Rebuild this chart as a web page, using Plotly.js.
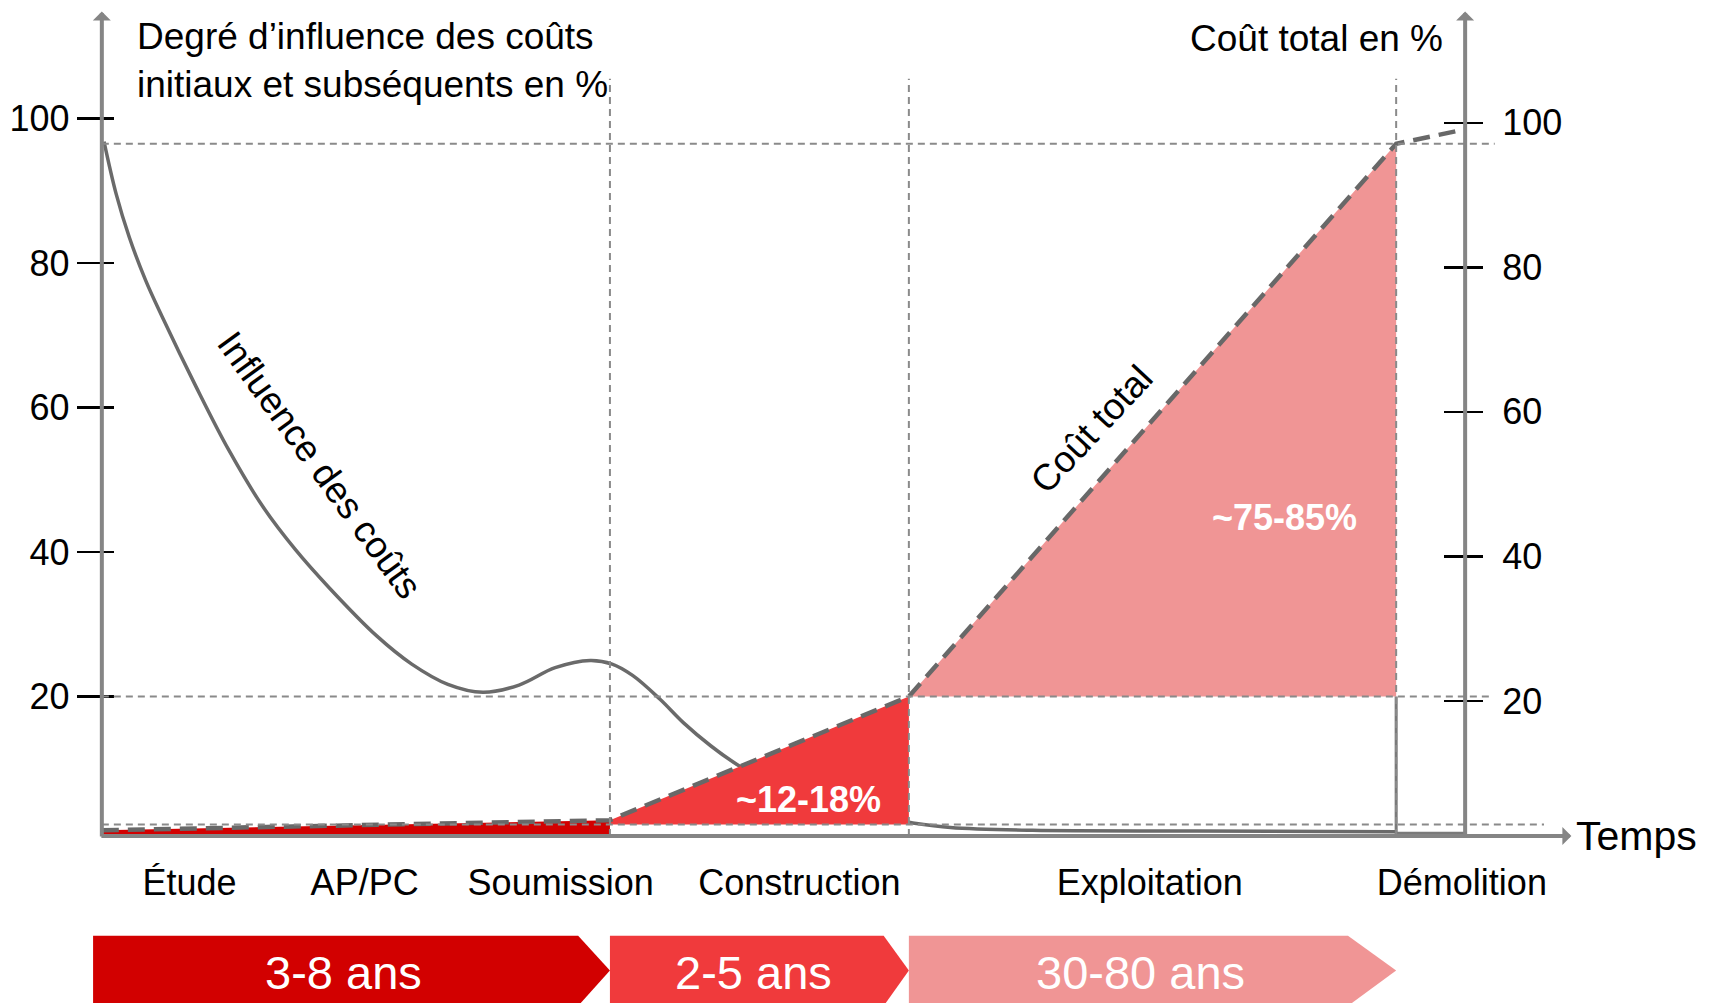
<!DOCTYPE html>
<html>
<head>
<meta charset="utf-8">
<script src="https://cdn.plot.ly/plotly-3.0.1.min.js"></script>
<style>html,body{margin:0;padding:0;background:#fff;}#chart{width:1717px;height:1003px;}</style>
</head>
<body>
<div id="chart"></div>
<script>
// ---------- data ----------
const phaseLabels = ["Étude", "AP/PC", "Soumission", "Construction", "Exploitation", "Démolition"];
const phaseLabelX = [8.0, 24.0, 41.9, 63.7, 95.7, 124.2];
const phaseBounds = [46.4, 73.7, 118.2];           // end of Soumission, Construction, Exploitation
const guideLevels = [96.5, 20, 2.3];               // horizontal reference levels (left axis %)

// cost influence (left axis, %)
const influenceX = [0.2, 1.3, 2.5, 4.0, 5.5, 8.6, 11.6, 14.7, 17.7, 20.8, 25.1, 28.3, 31.6, 34.8, 38.1, 41.4, 44.6, 46.6, 48.5, 51.0, 53.1, 55.6, 58.0, 61.0, 65.0, 69.0, 73.7, 77.5, 85.0, 100.0, 118.2];
const influenceY = [96.8, 89.6, 83.6, 77.6, 72.6, 62.9, 54.1, 46.3, 40.3, 35.0, 28.4, 24.5, 21.7, 20.6, 21.6, 24.0, 25.0, 24.5, 22.9, 19.6, 16.4, 13.2, 10.6, 8.0, 5.5, 3.8, 2.6, 1.9, 1.5, 1.4, 1.3];
const demolitionX = [118.2, 118.2, 124.5];
const demolitionY = [20, 1.1, 1.1];

// total cost (right axis, %)
const costX = [0, 46.4, 73.7, 118.2, 124.5];
const costY = [2.1, 3.5, 20.6, 97.1, 99.1];

const shareLabels = ["~12-18%", "~75-85%"];
const shareX = [64.5, 108.0];
const shareY = [5.8, 44.8];

const durationLabels = ["3-8 ans", "2-5 ans", "30-80 ans"];
const durationStart = [-0.8, 46.4, 73.7];
const durationEnd = [46.4, 73.7, 118.2];

const yTicks = [20, 40, 60, 80, 100];

// ---------- styles ----------
const FONT = "Liberation Sans, Arial, Helvetica, sans-serif";
const GRAY = "#858585";
const axisBase = 0.7;
const xAxisEnd = 134.2, yAxisTop = 114.8, rightAxisX = 124.5;
const chevTop = -13.1, chevMid = -17.9, chevBot = -22.8;
const chevTip = [2.9, 2.3, 4.4];
const chevColors = ["#D20000", "#F03A3C", "#F09595"];
const yRange = [-22.4, 116.4];
const rightShift = 0.6;   // right-axis scale offset vs left axis
const yRangeR = [yRange[0] + rightShift, yRange[1] + rightShift];

const traces = [];

// influence curve (left axis)
traces.push({x: influenceX, y: influenceY, yaxis: "y", mode: "lines", line: {color: "#6a6a6a", width: 3.5, shape: "spline", smoothing: 1}, hoverinfo: "skip"});
traces.push({x: demolitionX, y: demolitionY, yaxis: "y3", mode: "lines", line: {color: "#7a7a7a", width: 3}, hoverinfo: "skip"});

// fills under total cost (right axis)
const floorR = v => v + rightShift;
traces.push({x: [costX[0], costX[1], costX[1], costX[0]], y: [costY[0], costY[1], floorR(axisBase), floorR(axisBase)], yaxis: "y2",
  mode: "lines", fill: "toself", fillcolor: chevColors[0], line: {width: 0}, hoverinfo: "skip"});
traces.push({x: [costX[1], costX[1], costX[2], costX[2]], y: [floorR(guideLevels[2]), costY[1], costY[2], floorR(guideLevels[2])], yaxis: "y2",
  mode: "lines", fill: "toself", fillcolor: chevColors[1], line: {width: 0}, hoverinfo: "skip"});
traces.push({x: [costX[2], costX[3], costX[3]], y: [costY[2], costY[3], floorR(guideLevels[1])], yaxis: "y2",
  mode: "lines", fill: "toself", fillcolor: chevColors[2], line: {width: 0}, hoverinfo: "skip"});

// total cost dashed line
traces.push({x: costX, y: costY, yaxis: "y2", mode: "lines", line: {color: "#686868", width: 4.5, dash: "17px,9px"}, hoverinfo: "skip"});

// duration chevrons
for (let i = 0; i < durationLabels.length; i++) {
  const s = durationStart[i], e = durationEnd[i];
  traces.push({x: [s, e - chevTip[i], e, e - chevTip[i], s, s],
    y: [chevTop, chevTop, chevMid, chevBot, chevBot, chevTop].map(floorR), yaxis: "y4",
    mode: "lines", fill: "toself", fillcolor: chevColors[i], line: {width: 0}, hoverinfo: "skip"});
}

// ---------- shapes (guides) ----------
const dashLine = {color: "#8a8a8a", width: 2, dash: "7px,5px"};
const hExt = [127.2, 126.7, 131.7];
const shapes = [];
guideLevels.forEach((lv, i) => shapes.push({type: "line", xref: "x", yref: "y", x0: 0, x1: hExt[i], y0: lv, y1: lv, line: dashLine, layer: "above"}));
phaseBounds.forEach(b => shapes.push({type: "line", xref: "x", yref: "y", x0: b, x1: b, y0: axisBase, y1: 105.5, line: dashLine, layer: "above"}));

// ---------- annotations ----------
const ann = [];
const arrow = (x, y, ax, ay) => ({x: x, y: y, ax: ax, ay: ay, xref: "x", yref: "y", axref: "x", ayref: "y", text: "", showarrow: true,
  arrowhead: 1, arrowsize: 0.75, arrowwidth: 4, arrowcolor: GRAY, standoff: 0, startstandoff: 0});
ann.push(arrow(0, yAxisTop, 0, axisBase - 0.25));
ann.push(arrow(rightAxisX, yAxisTop, rightAxisX, axisBase - 0.25));
ann.push(arrow(xAxisEnd, axisBase, -0.18, axisBase));

ann.push({x: 3.0, y: 108.0, xref: "x", yref: "y", xanchor: "left", yanchor: "middle", align: "left", showarrow: false,
  text: "Degré d’influence des coûts<br>initiaux et subséquents en %", font: {family: FONT, size: 37, color: "#000"}});
ann.push({x: 122.7, y: 111.1, xref: "x", yref: "y", xanchor: "right", yanchor: "middle", showarrow: false,
  text: "Coût total en %", font: {family: FONT, size: 37, color: "#000"}});
ann.push({x: 134.4, y: axisBase, xref: "x", yref: "y", xanchor: "left", yanchor: "middle", showarrow: false,
  text: "Temps", font: {family: FONT, size: 41, color: "#000"}});
ann.push({x: 19.9, y: 52.0, xref: "x", yref: "y", showarrow: false, textangle: 54,
  text: "Influence des coûts", font: {family: FONT, size: 37, color: "#000"}});
ann.push({x: 90.4, y: 56.9, xref: "x", yref: "y", showarrow: false, textangle: -47,
  text: "Coût total", font: {family: FONT, size: 37, color: "#000"}});
shareLabels.forEach((t, i) => ann.push({x: shareX[i], y: shareY[i], xref: "x", yref: "y", showarrow: false,
  text: "<b>" + t + "</b>", font: {family: FONT, size: 36, color: "#fff"}}));
durationLabels.forEach((t, i) => ann.push({x: (durationStart[i] + durationEnd[i] - chevTip[i] / 2) / 2, y: -18.2, xref: "x", yref: "y", showarrow: false,
  text: t, font: {family: FONT, size: 47, color: "#fff"}}));

// ---------- layout ----------
const tickFont = {family: FONT, size: 36, color: "#000"};
const common = {showline: false, showgrid: false, zeroline: false, tickmode: "array", tickvals: yTicks, tickwidth: 2.5, tickcolor: "#000", fixedrange: true, anchor: "free"};
const layout = {
  width: 1717, height: 1003,
  margin: {l: 0, r: 0, t: 0, b: 0, pad: 0},
  paper_bgcolor: "#fff", plot_bgcolor: "#fff",
  showlegend: false, hovermode: false,
  font: {family: FONT},
  xaxis: {range: [-9.30, 147.5], anchor: "free", position: 1 - 834 / 1003, showline: false, showgrid: false, zeroline: false,
    tickmode: "array", tickvals: phaseLabelX, ticktext: phaseLabels, ticks: "", ticklabelstandoff: 24, tickfont: tickFont, fixedrange: true},
  yaxis: Object.assign({}, common, {range: yRange, position: 101.8 / 1717, side: "left", ticks: "outside", ticklen: 25, tickfont: tickFont}),
  yaxis3: Object.assign({}, common, {range: yRange, overlaying: "y", position: 101.8 / 1717, side: "left", ticks: "inside", ticklen: 11, showticklabels: false}),
  yaxis2: Object.assign({}, common, {range: yRangeR, overlaying: "y", position: 1465 / 1717, side: "right", ticks: "outside", ticklen: 17,
    tickfont: tickFont, ticklabelstandoff: 12}),
  yaxis4: Object.assign({}, common, {range: yRangeR, overlaying: "y", position: 1465 / 1717, side: "right", ticks: "inside", ticklen: 21, showticklabels: false}),
  shapes: shapes,
  annotations: ann
};

Plotly.newPlot("chart", traces, layout, {displayModeBar: false, staticPlot: true});
</script>
</body>
</html>
